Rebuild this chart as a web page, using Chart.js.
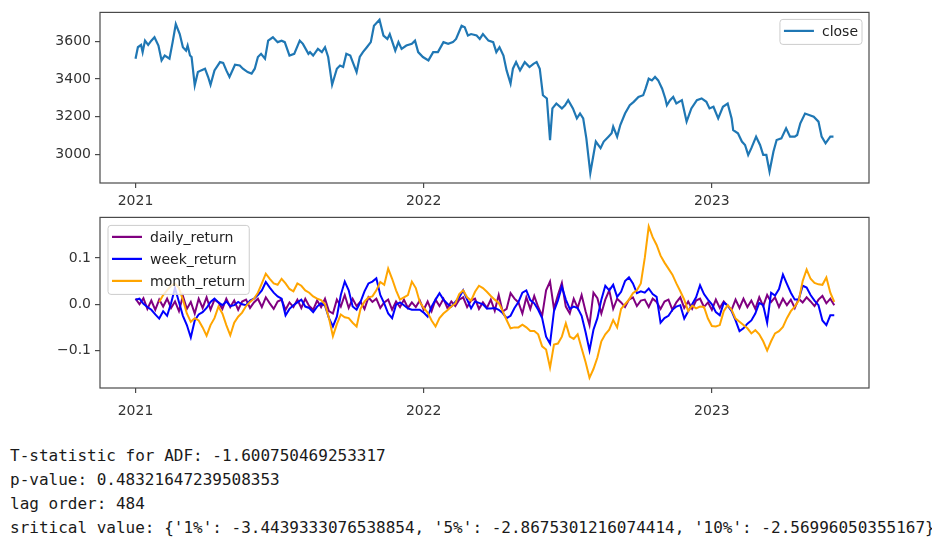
<!DOCTYPE html>
<html>
<head>
<meta charset="utf-8">
<script src="https://cdn.jsdelivr.net/npm/chart.js@4.4.0/dist/chart.umd.min.js"></script>
<style>
  html, body { margin: 0; padding: 0; background: #fff; }
  body { width: 932px; height: 543px; position: relative; overflow: hidden; }
  .panel { position: absolute; left: 0; width: 932px; }
  #topPanel { top: 0; height: 212px; }
  #bottomPanel { top: 205px; height: 223px; }
  #adf { position: absolute; left: 10px; top: 444px; margin: 0;
         font: 16px "DejaVu Sans Mono", monospace; line-height: 24px; color: #1a1a1a; white-space: pre; }
</style>
</head>
<body>
<div class="panel" id="topPanel"><canvas id="closeChart" width="932" height="212"></canvas></div>
<div class="panel" id="bottomPanel"><canvas id="retChart" width="932" height="223"></canvas></div>
<pre id="adf"></pre>
<script>
// x values are days counted from 2021-01-01
const YEAR_TICK_DAYS = [0, 365, 730];
const YEAR_LABELS = ['2021', '2022', '2023'];

const CLOSE_Y_TICKS = [3000, 3200, 3400, 3600];
const RET_Y_TICKS = [-0.1, 0.0, 0.1];
const RET_Y_LABELS = ['\u22120.1', '0.0', '0.1'];

// close
const closeDays = [
  0, 3, 7, 9, 12, 16, 20, 24, 29, 33,
  37, 43, 47, 51, 56, 60, 64, 66, 69, 71,
  75, 79, 83, 88, 92, 95, 100, 107, 111, 115,
  119, 126, 132, 136, 142, 147, 151, 155, 159, 164,
  168, 174, 180, 185, 189, 195, 201, 208, 212, 219,
  221, 225, 231, 236, 240, 244, 249, 255, 259, 263,
  267, 272, 276, 280, 284, 288, 293, 298, 302, 309,
  314, 319, 322, 329, 333, 337, 343, 350, 354, 358,
  364, 371, 377, 383, 390, 396, 402, 406, 413, 417,
  421, 425, 432, 436, 440, 447, 453, 457, 461, 466,
  470, 475, 478, 482, 487, 493, 499, 504, 508, 512,
  516, 521, 525, 528, 533, 540, 544, 548, 554, 559,
  563, 567, 571, 576, 580, 583, 589, 593, 599, 603,
  605, 610, 614, 620, 626, 631, 637, 643, 646, 650,
  654, 658, 662, 667, 671, 673, 677, 681, 685, 692,
  698, 704, 711, 717, 723, 727, 732, 738, 744, 750,
  755, 757, 763, 768, 772, 776, 780, 786, 791, 795,
  799, 803, 808, 812, 818, 824, 829, 835, 838, 842,
  848, 854, 859, 865, 869, 874, 880, 884
];
const closeValues = [
  3507, 3568, 3580, 3542, 3603, 3580, 3603, 3621, 3577, 3498,
  3524, 3507, 3595, 3691, 3638, 3568, 3550, 3577, 3524, 3516,
  3366, 3436, 3445, 3454, 3410, 3369, 3445, 3489, 3485, 3445,
  3410, 3475, 3471, 3454, 3436, 3428, 3454, 3516, 3533, 3507,
  3603, 3621, 3595, 3603, 3595, 3524, 3533, 3603, 3586, 3533,
  3542, 3524, 3559, 3542, 3568, 3516, 3369, 3454, 3471, 3463,
  3533, 3524, 3480, 3436, 3516, 3542, 3568, 3595, 3682, 3714,
  3630, 3612, 3638, 3550, 3595, 3559, 3577, 3586, 3603, 3542,
  3516, 3498, 3542, 3542, 3595, 3586, 3595, 3612, 3682, 3674,
  3630, 3638, 3630, 3612, 3638, 3603, 3595, 3542, 3568, 3524,
  3445, 3375, 3454, 3489, 3445, 3489, 3463, 3480, 3489, 3454,
  3313, 3296, 3075, 3243, 3269, 3243, 3260, 3287, 3243, 3190,
  3216, 3190, 3084, 2900, 2996, 3067, 3032, 3067, 3093, 3111,
  3146, 3093, 3155, 3216, 3260, 3278, 3304, 3313, 3348, 3401,
  3392, 3410, 3392, 3348, 3296, 3260, 3287, 3304, 3269, 3287,
  3173, 3243, 3287, 3296, 3278, 3243, 3252, 3190, 3252, 3269,
  3190, 3128, 3111, 3067, 3049, 2996, 3032, 3093, 3049, 2996,
  2996, 2908, 3014, 3075, 3084, 3137, 3093, 3093, 3102, 3164,
  3216, 3207, 3199, 3173, 3093, 3058, 3093, 3093
];

// returns, sampled every 5 days
const retDays = [
  0, 5, 10, 15, 20, 25, 30, 35, 40, 45,
  50, 55, 60, 65, 70, 75, 80, 85, 90, 95,
  100, 105, 110, 115, 120, 125, 130, 135, 140, 145,
  150, 155, 160, 165, 170, 175, 180, 185, 190, 195,
  200, 205, 210, 215, 220, 225, 230, 235, 240, 245,
  250, 255, 260, 265, 270, 275, 280, 285, 290, 295,
  300, 305, 310, 315, 320, 325, 330, 335, 340, 345,
  350, 355, 360, 365, 370, 375, 380, 385, 390, 395,
  400, 405, 410, 415, 420, 425, 430, 435, 440, 445,
  450, 455, 460, 465, 470, 475, 480, 485, 490, 495,
  500, 505, 510, 515, 520, 525, 530, 535, 540, 545,
  550, 555, 560, 565, 570, 575, 580, 585, 590, 595,
  600, 605, 610, 615, 620, 625, 630, 635, 640, 645,
  650, 655, 660, 665, 670, 675, 680, 685, 690, 695,
  700, 705, 710, 715, 720, 725, 730, 735, 740, 745,
  750, 755, 760, 765, 770, 775, 780, 785, 790, 795,
  800, 805, 810, 815, 820, 825, 830, 835, 840, 845,
  850, 855, 860, 865, 870, 875, 880, 885
];
const dailyReturn = [
  0.012, 0.000, 0.013, -0.010, 0.008, -0.012, 0.010, -0.005, 0.012, -0.008,
  0.006, -0.015, 0.018, -0.010, 0.005, -0.020, 0.012, -0.008, 0.015, -0.012,
  0.010, 0.004, -0.010, 0.012, -0.006, 0.008, -0.012, 0.006, 0.010, -0.008,
  0.004, 0.012, -0.006, 0.015, 0.002, -0.010, 0.006, 0.010, -0.012, 0.004,
  -0.006, 0.010, -0.008, 0.012, -0.004, -0.012, 0.008, -0.006, 0.012, -0.015,
  -0.020, 0.010, -0.005, 0.020, -0.008, 0.012, -0.004, 0.006, -0.010, 0.015,
  0.005, 0.012, -0.008, 0.004, 0.010, -0.012, 0.006, -0.006, 0.010, -0.008,
  0.004, -0.006, 0.008, -0.012, 0.006, -0.015, 0.010, -0.004, 0.012, -0.008,
  0.006, -0.004, 0.010, 0.015, -0.006, 0.008, 0.012, -0.010, 0.004, -0.008,
  0.010, -0.014, 0.020, -0.016, -0.010, 0.024, 0.012, 0.004, -0.020, 0.015,
  -0.010, 0.018, -0.006, -0.025, 0.030, 0.049, -0.010, 0.020, 0.046, -0.005,
  -0.020, 0.012, -0.008, 0.020, -0.015, -0.045, 0.025, 0.013, -0.020, 0.010,
  0.030, -0.010, 0.012, 0.004, -0.006, 0.010, 0.015, -0.004, 0.008, 0.010,
  -0.006, 0.012, 0.005, -0.010, 0.006, 0.010, -0.012, 0.004, 0.015, -0.008,
  0.006, -0.010, 0.008, 0.012, -0.006, 0.004, -0.012, 0.010, -0.008, 0.006,
  -0.004, -0.012, 0.010, -0.008, 0.012, -0.006, 0.008, -0.010, 0.015, -0.004,
  0.020, 0.005, 0.015, -0.006, 0.012, -0.002, 0.010, -0.008, 0.012, 0.004,
  0.015, 0.006, -0.004, 0.010, 0.018, 0.002, 0.012, -0.002
];
const weekReturn = [
  0.010, 0.012, 0.001, -0.006, -0.012, -0.022, -0.031, -0.015, -0.025, 0.002,
  0.035, 0.005, -0.025, -0.045, -0.072, -0.035, -0.022, -0.017, -0.008, 0.005,
  0.012, 0.004, -0.002, 0.006, -0.004, -0.002, 0.005, 0.000, -0.002, 0.008,
  0.012, 0.020, 0.030, 0.048, 0.036, 0.025, 0.017, 0.012, -0.024, -0.010,
  -0.002, 0.004, 0.010, -0.005, -0.008, -0.017, -0.005, 0.002, -0.003, -0.030,
  -0.048, -0.027, 0.020, 0.049, 0.030, -0.005, -0.012, 0.005, 0.028, 0.045,
  0.049, 0.056, 0.020, 0.002, -0.020, -0.030, -0.001, 0.004, -0.002, -0.009,
  -0.012, -0.012, -0.012, -0.018, -0.027, -0.005, 0.010, 0.024, 0.010, 0.001,
  -0.005, 0.005, 0.015, 0.030, 0.010, -0.009, 0.006, 0.003, 0.000, -0.009,
  -0.009, -0.008, -0.012, -0.019, -0.030, -0.025, -0.008, 0.005, 0.025, 0.030,
  0.009, 0.002, -0.012, -0.030, -0.070, -0.085, -0.015, 0.008, 0.038, 0.010,
  -0.010, -0.005, -0.008, -0.025, -0.060, -0.100, -0.055, -0.030, 0.010, 0.040,
  0.030, 0.042, 0.016, 0.027, 0.050, 0.058, 0.045, 0.024, 0.028, 0.025,
  0.034, 0.022, 0.016, -0.040, -0.030, -0.025, -0.012, -0.005, -0.002, -0.031,
  -0.015, 0.000, 0.015, 0.041, 0.022, 0.010, 0.000, -0.017, -0.024, 0.003,
  -0.002, -0.015, -0.035, -0.058, -0.052, -0.042, -0.035, -0.020, 0.003, -0.002,
  -0.040, 0.025, 0.019, 0.033, 0.064, 0.044, 0.025, 0.010, 0.010, 0.040,
  0.036, 0.020, 0.008, -0.002, -0.035, -0.045, -0.024, -0.024
];
const monthReturn = [
  null, null, null, null, null, null, 0.005, 0.020, 0.030, 0.040,
  0.045, 0.035, 0.010, -0.020, -0.038, -0.030, -0.035, -0.050, -0.068, -0.045,
  -0.030, -0.005, -0.020, -0.045, -0.067, -0.040, -0.027, -0.018, -0.004, 0.005,
  0.012, 0.025, 0.045, 0.066, 0.055, 0.045, 0.042, 0.055, 0.045, 0.033,
  0.028, 0.045, 0.040, 0.030, 0.025, 0.017, 0.012, 0.009, 0.000, -0.030,
  -0.069, -0.043, -0.022, -0.028, -0.030, -0.040, -0.048, -0.010, 0.006, 0.015,
  0.017, 0.030, 0.048, 0.042, 0.077, 0.055, 0.030, 0.010, 0.015, 0.020,
  0.049, 0.035, 0.005, -0.008, -0.018, -0.035, -0.048, -0.030, -0.020, -0.013,
  -0.005, 0.002, 0.022, 0.030, 0.015, 0.008, 0.027, 0.040, 0.035, 0.027,
  0.018, 0.010, 0.003, -0.015, -0.034, -0.052, -0.050, -0.050, -0.044, -0.050,
  -0.058, -0.058, -0.065, -0.091, -0.098, -0.137, -0.087, -0.085, -0.070, -0.041,
  -0.070, -0.075, -0.065, -0.095, -0.125, -0.159, -0.140, -0.115, -0.080, -0.065,
  -0.055, -0.034, -0.050, -0.010, 0.000, 0.010, 0.024, 0.030, 0.045, 0.100,
  0.168, 0.145, 0.128, 0.105, 0.090, 0.077, 0.064, 0.045, 0.028, 0.010,
  -0.015, -0.003, -0.009, -0.005, -0.006, -0.031, -0.047, -0.048, -0.045, -0.015,
  -0.002, -0.012, -0.031, -0.038, -0.045, -0.052, -0.063, -0.056, -0.065, -0.080,
  -0.100, -0.080, -0.063, -0.058, -0.049, -0.030, -0.015, -0.005, 0.008, 0.050,
  0.075, 0.055, 0.046, 0.043, 0.042, 0.058, 0.025, 0.005
];

const ADF_LINES = [
  'T-statistic for ADF: -1.600750469253317',
  'p-value: 0.48321647239508353',
  'lag order: 484',
  "sritical value: {'1%': -3.4439333076538854, '5%': -2.8675301216074414, '10%': -2.56996050355167}"
];

const AXIS_COLOR = '#4a4a4a';
const TICK_COLOR = '#333';
const TICK_FONT = { family: 'DejaVu Sans', size: 14 };

const toXY = (xs, ys) => xs.map((x, i) => ({ x, y: ys[i] }));

// matplotlib-like box around the axes
const framePlugin = {
  id: 'frame',
  afterDatasetsDraw(chart) {
    const { ctx, chartArea: a } = chart;
    ctx.save();
    ctx.strokeStyle = AXIS_COLOR;
    ctx.lineWidth = 1.2;
    ctx.strokeRect(a.left, a.top, a.right - a.left, a.bottom - a.top);
    ctx.restore();
  }
};

// legend drawn inside the plot, over the lines
const boxLegend = {
  id: 'boxLegend',
  afterDraw(chart, args, opts) {
    const { ctx, chartArea: a } = chart;
    const items = chart.data.datasets;
    ctx.save();
    ctx.font = '14px "DejaVu Sans"';
    const textW = Math.max(...items.map(d => ctx.measureText(d.label).width));
    const w = 4 + 30 + 8 + textW + 4;
    const h = 12 + (items.length - 1) * 22 + 13;
    const x = opts.align === 'left' ? a.left + 8 : a.right - 7 - w;
    const y = a.top + (opts.align === 'left' ? 8 : 7);
    ctx.beginPath();
    ctx.roundRect(x, y, w, h, 3);
    ctx.fillStyle = 'rgba(255,255,255,0.8)';
    ctx.fill();
    ctx.strokeStyle = '#cccccc';
    ctx.lineWidth = 1;
    ctx.stroke();
    items.forEach((d, i) => {
      const cy = y + 11.5 + i * 22;
      ctx.beginPath();
      ctx.moveTo(x + 4, cy);
      ctx.lineTo(x + 34, cy);
      ctx.strokeStyle = d.borderColor;
      ctx.lineWidth = 2.2;
      ctx.stroke();
      ctx.fillStyle = '#222';
      ctx.textBaseline = 'middle';
      ctx.fillText(d.label, x + 42, cy + 1);
    });
    ctx.restore();
  }
};

function xScale(axisHeight, labelPad) {
  return {
    type: 'linear',
    min: -45,
    max: 929,
    afterBuildTicks: s => { s.ticks = YEAR_TICK_DAYS.map(v => ({ value: v })); },
    afterFit: s => { s.height = axisHeight; },
    grid: { drawOnChartArea: false, drawTicks: true, tickLength: 5, color: AXIS_COLOR, lineWidth: 1.2 },
    border: { display: false },
    ticks: {
      color: TICK_COLOR, font: TICK_FONT, padding: labelPad, maxRotation: 0, autoSkip: false,
      callback: v => YEAR_LABELS[YEAR_TICK_DAYS.indexOf(v)]
    }
  };
}

function yScale(min, max, tickVals, fmt) {
  return {
    min, max,
    afterBuildTicks: s => { s.ticks = tickVals.map(v => ({ value: v })); },
    afterFit: s => { s.width = 100; },
    grid: { drawOnChartArea: false, drawTicks: true, tickLength: 5, color: AXIS_COLOR, lineWidth: 1.2 },
    border: { display: false },
    ticks: { color: TICK_COLOR, font: TICK_FONT, padding: 4, callback: fmt }
  };
}

const baseOpts = {
  responsive: false,
  animation: false,
  devicePixelRatio: 1,
  events: [],
  plugins: { legend: { display: false }, tooltip: { enabled: false } }
};

new Chart(document.getElementById('closeChart'), {
  type: 'line',
  data: {
    datasets: [{
      label: 'close',
      data: toXY(closeDays, closeValues),
      borderColor: '#1f77b4',
      borderWidth: 2.2,
      pointRadius: 0,
      tension: 0
    }]
  },
  options: {
    ...baseOpts,
    layout: { padding: { top: 11, right: 63, left: 0, bottom: 0 } },
    scales: {
      x: xScale(29, 5),
      y: yScale(2847, 3753, CLOSE_Y_TICKS, v => String(v))
    },
    plugins: { ...baseOpts.plugins, boxLegend: { align: 'right' } }
  },
  plugins: [framePlugin, boxLegend]
});

new Chart(document.getElementById('retChart'), {
  type: 'line',
  data: {
    datasets: [
      { label: 'daily_return', data: toXY(retDays, dailyReturn), borderColor: '#800080', borderWidth: 2, pointRadius: 0, order: 3 },
      { label: 'week_return', data: toXY(retDays, weekReturn), borderColor: '#0000ff', borderWidth: 2, pointRadius: 0, order: 2 },
      { label: 'month_return', data: toXY(retDays, monthReturn), borderColor: '#ffa500', borderWidth: 2, pointRadius: 0, order: 1 }
    ]
  },
  options: {
    ...baseOpts,
    layout: { padding: { top: 12, right: 63, left: 0, bottom: 0 } },
    scales: {
      x: xScale(40, 10),
      y: yScale(-0.181, 0.1877, RET_Y_TICKS, v => RET_Y_LABELS[RET_Y_TICKS.indexOf(v)])
    },
    plugins: { ...baseOpts.plugins, boxLegend: { align: 'left' } }
  },
  plugins: [framePlugin, boxLegend]
});

document.getElementById('adf').textContent = ADF_LINES.join('\n');
</script>
</body>
</html>
